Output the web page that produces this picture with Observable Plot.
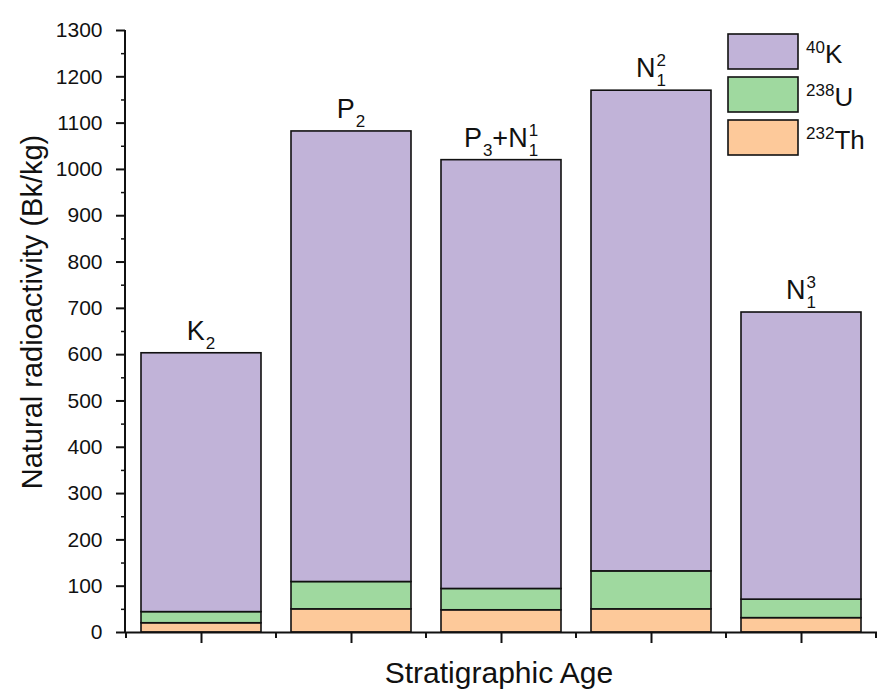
<!DOCTYPE html>
<html>
<head>
<meta charset="utf-8">
<script src="https://cdn.jsdelivr.net/npm/d3@7"></script>
<script src="https://cdn.jsdelivr.net/npm/@observablehq/plot@0.6"></script>
<style>
  html, body { margin: 0; padding: 0; background: #fff; }
  svg { font-family: "Liberation Sans", Arial, sans-serif; }
</style>
</head>
<body>
<div id="chart"></div>
<script>
// ---- data ----
const categories = ["K2", "P2", "P3+N11", "N12", "N13"];
const thorium = [20, 50, 48, 50, 31];      // 232Th
const uranium = [24, 59, 46, 82, 40];      // 238U
const potassium = [559, 973, 926, 1038, 620]; // 40K
const isotopes = ["40K", "238U", "232Th"];
const isotopeMass = ["40", "238", "232"];
const isotopeSymbol = ["K", "U", "Th"];
const isotopeColors = ["#c1b3d8", "#9fd99f", "#fdc99a"];
const yTicks = d3.range(0, 1301, 100);
const yMinorTicks = d3.range(50, 1300, 100);
const yLabel = "Natural radioactivity (Bk/kg)";
const xLabel = "Stratigraphic Age";
// label of each bar: plain text pieces, subscripts and superscripts
const labelParts = [
  [{t: "K"}, {sub: "2"}],
  [{t: "P"}, {sub: "2"}],
  [{t: "P"}, {sub: "3"}, {t: "+N"}, {sub: "1", sup: "1"}],
  [{t: "N"}, {sub: "1", sup: "2"}],
  [{t: "N"}, {sub: "1", sup: "3"}]
];

// ---- table built from arrays (stack order bottom→top: Th, U, K) ----
const rows = [];
categories.forEach((c, i) => {
  rows.push({cat: c, iso: "232Th", value: thorium[i]});
  rows.push({cat: c, iso: "238U", value: uranium[i]});
  rows.push({cat: c, iso: "40K", value: potassium[i]});
});
const totals = categories.map((c, i) => thorium[i] + uranium[i] + potassium[i]);

const plot = Plot.plot({
  width: 880,
  height: 690,
  marginLeft: 125,
  marginRight: 3,
  marginTop: 30,
  marginBottom: 58,
  style: {fontFamily: '"Liberation Sans", Arial, sans-serif', background: "#fff", color: "#000"},
  x: {type: "band", domain: categories, paddingInner: 0.2, paddingOuter: 0.1, label: null},
  y: {domain: [0, 1300], label: null},
  color: {domain: isotopes, range: isotopeColors},
  marks: [
    Plot.barY(rows, {x: "cat", y: "value", fill: "iso", stroke: "#111", strokeWidth: 1.6}),
    Plot.ruleY([0], {stroke: "#111", strokeWidth: 2}),
    Plot.axisY({ticks: yTicks, tickSize: 9, tickPadding: 14, fontSize: 21, tickFormat: d3.format("d"), label: null, strokeWidth: 2, stroke: "#111", fill: "#111"}),
    Plot.axisY({ticks: yMinorTicks, tickSize: 4, tickFormat: () => "", label: null, strokeWidth: 1.5, stroke: "#111"}),
    Plot.axisX({ticks: categories, tickSize: 11, tickFormat: () => "", label: null, strokeWidth: 2, stroke: "#111"})
  ]
});
document.getElementById("chart").appendChild(plot);

const svg = d3.select(plot);
const fx = plot.scale("x"), fy = plot.scale("y");
const x0 = fx.range[0], x1 = fx.range[1];
const yb = fy.apply(0), yt = fy.apply(1300);
const font = '"Liberation Sans", Arial, sans-serif';

// left axis line
svg.append("line").attr("x1", x0).attr("x2", x0).attr("y1", yt).attr("y2", yb + 1)
  .attr("stroke", "#111").attr("stroke-width", 2);

// minor x ticks at band boundaries
const gap = fx.step - fx.bandwidth;
for (let i = 0; i <= categories.length; i++) {
  const xb = fx.apply(categories[0]) - gap / 2 + i * fx.step;
  svg.append("line").attr("x1", xb).attr("x2", xb).attr("y1", yb).attr("y2", yb + 6)
    .attr("stroke", "#111").attr("stroke-width", 2);
}

// bar labels
const mainSize = 27, scriptSize = 17;
categories.forEach((c, i) => {
  const cx = fx.apply(c) + fx.bandwidth / 2;
  const base = fy.apply(totals[i]) - 13;
  const g = svg.append("g").attr("text-anchor", "start");
  let cursor = 0;
  labelParts[i].forEach(p => {
    if (p.t !== undefined) {
      const t = g.append("text").attr("x", cursor).attr("y", base).attr("text-anchor", "start")
        .attr("font-size", mainSize).attr("font-family", font).attr("fill", "#111").text(p.t);
      cursor += t.node().getComputedTextLength();
    } else {
      let w = 0;
      const s = g.append("text").attr("x", cursor + 1).attr("y", base + 9).attr("text-anchor", "start")
        .attr("font-size", scriptSize).attr("font-family", font).attr("fill", "#111").text(p.sub);
      w = Math.max(w, s.node().getComputedTextLength());
      if (p.sup !== undefined) {
        const u = g.append("text").attr("x", cursor + 1).attr("y", base - 11).attr("text-anchor", "start")
          .attr("font-size", scriptSize).attr("font-family", font).attr("fill", "#111").text(p.sup);
        w = Math.max(w, u.node().getComputedTextLength());
      }
      cursor += w + 1;
    }
  });
  g.attr("transform", `translate(${cx - cursor / 2},0)`);
});

// legend
const lgX = 728, lgY = 34, boxW = 70, boxH = 35, lgGap = 8;
isotopes.forEach((iso, i) => {
  const y = lgY + i * (boxH + lgGap);
  svg.append("rect").attr("x", lgX).attr("y", y).attr("width", boxW).attr("height", boxH)
    .attr("fill", isotopeColors[i]).attr("stroke", "#111").attr("stroke-width", 1.6);
  const t = svg.append("text").attr("x", lgX + boxW + 8).attr("y", y + boxH / 2 + 11)
    .attr("text-anchor", "start").attr("font-family", font).attr("fill", "#111");
  t.append("tspan").attr("font-size", 17).attr("dy", -10).text(isotopeMass[i]);
  t.append("tspan").attr("font-size", 26).attr("dy", 10).text(isotopeSymbol[i]);
});

// axis titles
svg.append("text").attr("transform", `translate(42,${(yb + yt) / 2 - 19}) rotate(-90)`)
  .attr("text-anchor", "middle").attr("font-size", 29).attr("font-family", font).attr("fill", "#111").text(yLabel);
svg.append("text").attr("x", (x0 + x1) / 2 - 2).attr("y", 683)
  .attr("text-anchor", "middle").attr("font-size", 30).attr("font-family", font).attr("fill", "#111").text(xLabel);
</script>
</body>
</html>
